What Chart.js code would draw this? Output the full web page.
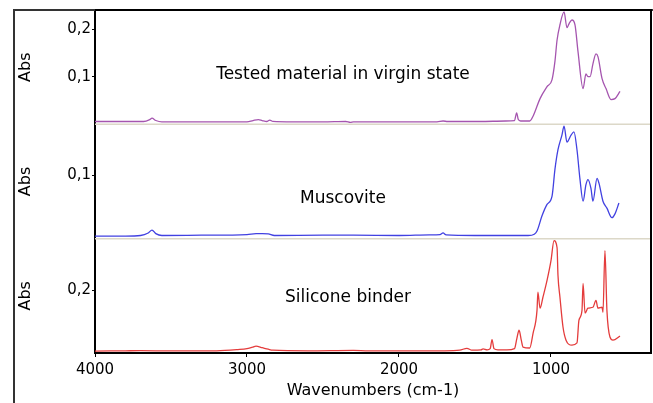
<!DOCTYPE html>
<html>
<head>
<meta charset="utf-8">
<script src="https://cdn.jsdelivr.net/npm/chart.js@4/dist/chart.umd.min.js"></script>
<style>
  html, body { margin: 0; padding: 0; background: #fff; }
  canvas { display: block; }
</style>
</head>
<body>
<canvas id="spectra" width="653" height="403"></canvas>
<script>
// wavenumbers (cm-1) and absorbance
const virginWave = [4000, 3800, 3680, 3640, 3625, 3600, 3560, 3400, 3200, 3000, 2960, 2925, 2900, 2870, 2850, 2830, 2700, 2500, 2350, 2320, 2300, 2000, 1900, 1750, 1710, 1680, 1550, 1467, 1300, 1240, 1226, 1215, 1200, 1140, 1118, 1072, 1026, 993, 974, 960, 941, 914, 895, 880, 862, 842, 822, 789, 770, 757, 743, 724, 704, 691, 664, 638, 605, 579, 546];
const virginAbs = [0.006, 0.006, 0.006, 0.010, 0.013, 0.008, 0.005, 0.005, 0.005, 0.005, 0.008, 0.010, 0.008, 0.006, 0.009, 0.006, 0.005, 0.005, 0.006, 0.004, 0.005, 0.005, 0.005, 0.005, 0.007, 0.006, 0.006, 0.006, 0.007, 0.008, 0.024, 0.010, 0.007, 0.007, 0.017, 0.054, 0.079, 0.094, 0.132, 0.177, 0.209, 0.236, 0.203, 0.212, 0.219, 0.209, 0.152, 0.075, 0.106, 0.100, 0.100, 0.127, 0.148, 0.142, 0.096, 0.075, 0.052, 0.054, 0.069];

const muscoviteWave = [4000, 3800, 3700, 3650, 3625, 3600, 3560, 3300, 3000, 2940, 2900, 2860, 2820, 2500, 2300, 2000, 1800, 1730, 1710, 1690, 1500, 1300, 1150, 1110, 1092, 1059, 1026, 993, 974, 954, 928, 914, 895, 868, 849, 829, 809, 789, 770, 757, 737, 724, 697, 684, 658, 632, 599, 579, 553];
const muscoviteAbs = [0.004, 0.004, 0.005, 0.009, 0.0135, 0.008, 0.005, 0.0055, 0.0065, 0.008, 0.008, 0.0075, 0.005, 0.0055, 0.0055, 0.005, 0.006, 0.0065, 0.009, 0.006, 0.005, 0.005, 0.005, 0.007, 0.012, 0.036, 0.054, 0.067, 0.109, 0.140, 0.163, 0.177, 0.152, 0.163, 0.168, 0.140, 0.093, 0.059, 0.085, 0.093, 0.079, 0.059, 0.095, 0.087, 0.059, 0.048, 0.033, 0.039, 0.056];

const siliconeWave = [4000, 3800, 3700, 3500, 3200, 3060, 3000, 2960, 2941, 2900, 2860, 2830, 2600, 2300, 2200, 1900, 1700, 1600, 1553, 1520, 1460, 1447, 1420, 1400, 1388, 1375, 1349, 1290, 1240, 1225, 1210, 1195, 1184, 1140, 1118, 1092, 1086, 1072, 1053, 1026, 1000, 980, 960, 954, 941, 921, 901, 862, 829, 816, 796, 789, 776, 757, 724, 704, 691, 664, 658, 645, 632, 612, 592, 546];
const siliconeAbs = [0.006, 0.007, 0.0075, 0.0065, 0.007, 0.011, 0.014, 0.019, 0.022, 0.017, 0.012, 0.009, 0.007, 0.0085, 0.007, 0.007, 0.007, 0.009, 0.015, 0.009, 0.010, 0.013, 0.010, 0.014, 0.043, 0.014, 0.010, 0.010, 0.014, 0.045, 0.073, 0.040, 0.019, 0.016, 0.063, 0.136, 0.194, 0.143, 0.178, 0.232, 0.295, 0.359, 0.336, 0.248, 0.178, 0.083, 0.041, 0.025, 0.032, 0.105, 0.136, 0.222, 0.127, 0.143, 0.146, 0.168, 0.143, 0.146, 0.130, 0.327, 0.136, 0.051, 0.041, 0.054];

const xTicks = [4000, 3000, 2000, 1000];
const virginTicks = [0.1, 0.2];
const muscoviteTicks = [0.1];
const siliconeTicks = [0.2];
const panelTitles = ['Tested material in virgin state', 'Muscovite', 'Silicone binder'];

Chart.defaults.font.family = '"DejaVu Sans", sans-serif';
Chart.defaults.color = '#000';

const toPoints = (wave, abs) => wave.map((w, i) => ({ x: w, y: abs[i] }));

function absAxis(max, ticks, weight) {
  return {
    type: 'linear',
    position: 'left',
    stack: 'panels',
    stackWeight: 1,
    weight: weight,
    min: 0,
    max: max,
    afterFit: (s) => { s.width = 81; },
    afterBuildTicks: (s) => { s.ticks = ticks.map(v => ({ value: v })); },
    ticks: {
      font: { size: 15 },
      color: '#000',
      padding: 1,
      callback: (v) => v.toFixed(1).replace('.', ',')
    },
    grid: { drawOnChartArea: false, tickLength: 3, tickColor: '#000' },
    border: { display: true, color: '#000', width: 2 },
    title: { display: true, text: 'Abs', font: { size: 16 }, color: '#000', padding: { top: 2, bottom: 0 } }
  };
}

// label spots inside each panel, as fraction of plot width / panel height
const titleX = [0.446, 0.446, 0.455];
const titleY = [0.565, 0.652, 0.513];
const panelIds = ['yTop', 'yMid', 'yBot'];

const panelDecor = {
  id: 'panelDecor',
  beforeDatasetsDraw(chart) {
    const { ctx, chartArea: a, scales } = chart;
    ctx.save();
    ctx.strokeStyle = '#dcd8c8';
    ctx.lineWidth = 1.5;
    ['yTop', 'yMid'].forEach(id => {
      const y = scales[id].bottom;
      ctx.beginPath();
      ctx.moveTo(a.left, y);
      ctx.lineTo(a.right, y);
      ctx.stroke();
    });
    ctx.restore();
  },
  afterDraw(chart) {
    const { ctx, chartArea: a, scales } = chart;
    ctx.save();
    // outer frame
    ctx.strokeStyle = '#333';
    ctx.lineWidth = 2;
    ctx.beginPath();
    ctx.moveTo(14, chart.height);
    ctx.lineTo(14, a.top);
    ctx.lineTo(chart.width, a.top);
    ctx.stroke();
    // plot box top and right
    ctx.strokeStyle = '#000';
    ctx.beginPath();
    ctx.moveTo(a.left, a.top);
    ctx.lineTo(a.right, a.top);
    ctx.lineTo(a.right, a.bottom);
    ctx.stroke();
    // panel names
    ctx.fillStyle = '#000';
    ctx.font = '17px "DejaVu Sans"';
    ctx.textAlign = 'center';
    ctx.textBaseline = 'middle';
    panelTitles.forEach((t, i) => {
      const s = scales[panelIds[i]];
      ctx.fillText(t, a.left + a.width * titleX[i], s.top + s.height * titleY[i]);
    });
    ctx.restore();
  }
};

const ctx = document.getElementById('spectra').getContext('2d');
new Chart(ctx, {
  type: 'line',
  data: {
    datasets: [
      { data: toPoints(virginWave, virginAbs), yAxisID: 'yTop', borderColor: 'rgb(165, 85, 175)' },
      { data: toPoints(muscoviteWave, muscoviteAbs), yAxisID: 'yMid', borderColor: 'rgb(65, 65, 225)' },
      { data: toPoints(siliconeWave, siliconeAbs), yAxisID: 'yBot', borderColor: 'rgb(228, 60, 60)' }
    ]
  },
  options: {
    responsive: false,
    animation: false,
    devicePixelRatio: 1,
    layout: { padding: { left: 14, top: 8, right: 2, bottom: 0 } },
    elements: {
      point: { radius: 0 },
      line: { borderWidth: 1.3, cubicInterpolationMode: 'monotone', fill: false }
    },
    plugins: {
      legend: { display: false },
      tooltip: { enabled: false }
    },
    scales: {
      x: {
        type: 'linear',
        reverse: true,
        min: 342,
        max: 4000,
        afterFit: (s) => { s.height = 50; },
        afterBuildTicks: (s) => { s.ticks = xTicks.map(v => ({ value: v })); },
        ticks: { font: { size: 15 }, color: '#000', padding: 4, maxRotation: 0, callback: (v) => String(v) },
        grid: { drawOnChartArea: false, tickLength: 4, tickColor: '#000' },
        border: { display: true, color: '#000', width: 2 },
        title: { display: true, text: 'Wavenumbers (cm-1)', font: { size: 16 }, color: '#000', padding: { top: 0, bottom: 3 } }
      },
      yTop: absAxis(0.24, virginTicks, 3),
      yMid: absAxis(0.18, muscoviteTicks, 2),
      yBot: absAxis(0.365, siliconeTicks, 1)
    }
  },
  plugins: [panelDecor]
});
</script>
</body>
</html>
